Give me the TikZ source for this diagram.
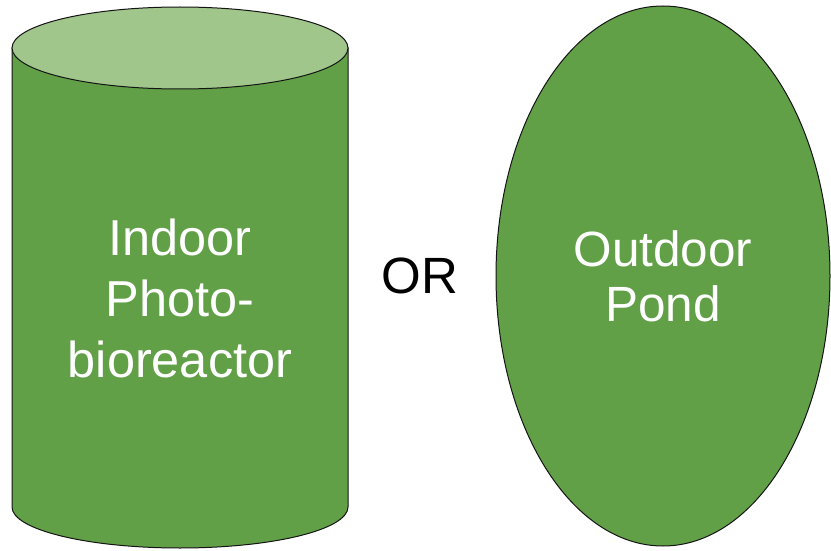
\documentclass[tikz,border=0pt]{standalone}
\usepackage{fontspec}
\setmainfont{Liberation Sans}
\usepackage{tikz}
\usetikzlibrary{positioning,shapes.geometric}
\definecolor{algaegreen}{RGB}{98,160,72}
\definecolor{algaelight}{RGB}{160,198,140}
\definecolor{rimdark}{RGB}{20,20,20}

\begin{document}
\begin{tikzpicture}[x=1pt, y=1pt,
  bigtext/.style={font=\fontsize{50}{61}\selectfont, align=center, inner sep=0pt},
  pond/.style={ellipse, draw=rimdark, line width=1pt, fill=algaegreen, minimum width=334pt, minimum height=540pt, inner sep=0pt, text=white, bigtext, font=\fontsize{49.5}{55}\selectfont}
]
  \useasboundingbox (0,0) rectangle (831,-551);

  % photobioreactor tank
  \draw[rimdark, line width=1pt, fill=algaegreen]
    (12,-48) -- (12,-507) arc[start angle=180, end angle=360, x radius=168, y radius=41]
    -- (348,-48) -- cycle;
  \draw[rimdark, line width=1pt, fill=algaelight] (180,-48) ellipse[x radius=168, y radius=41];
  \node[bigtext, text=white, font=\fontsize{50.5}{61}\selectfont] (reactor) at (180,-298) {Indoor\\Photo-\\bioreactor};

  \node[bigtext, font=\fontsize{51}{61}\selectfont] (choice) at (420,-276) {OR};

  % open pond
  \node[pond] (pond) at (663,-276) {Outdoor\\Pond};
\end{tikzpicture}
\end{document}
